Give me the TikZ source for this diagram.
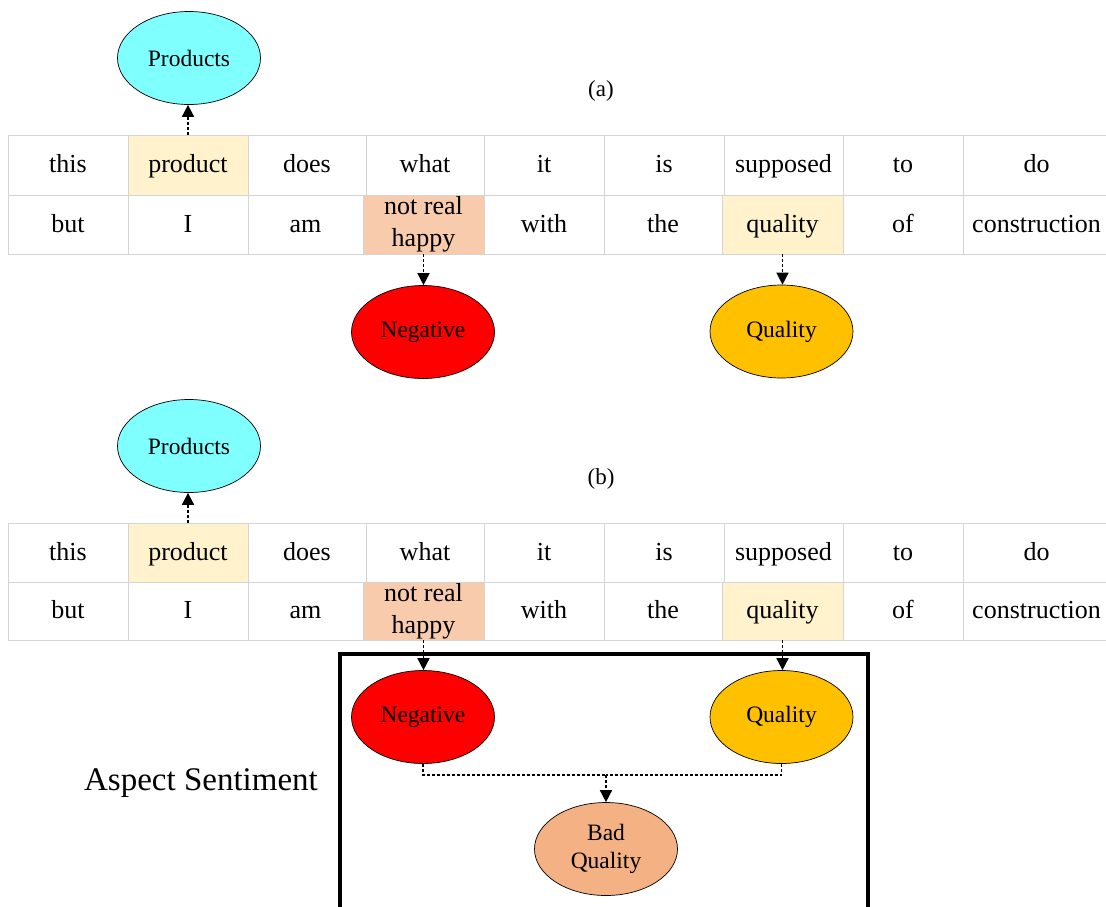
\documentclass[tikz,border=0pt]{standalone}
\usepackage{fontspec}
\setmainfont{Liberation Serif}
\usetikzlibrary{shapes.geometric,arrows.meta}

\definecolor{gridgray}{HTML}{D4D4D4}
\definecolor{aspectfill}{HTML}{FFF2CC}
\definecolor{opinionfill}{HTML}{F8CBAD}
\definecolor{productcyan}{HTML}{80FFFF}
\definecolor{negred}{HTML}{FF0000}
\definecolor{qualgold}{HTML}{FFC000}
\definecolor{badpeach}{HTML}{F4B183}

\tikzset{
  cell/.style={draw=gridgray, line width=0.9pt, inner sep=0pt,
    font=\fontsize{26}{32}\selectfont},
  oneline/.style={text height=18.5pt, text depth=3.5pt},
  twoline/.style={align=center},
  tag/.style={ellipse, draw=black, line width=0.7pt, inner sep=0pt,
    minimum width=143pt, minimum height=93pt,
    font=\fontsize{23.5}{28}\selectfont, align=center},
  link/.style={line width=1.6pt, dash pattern=on 3pt off 2pt},
  flow/.style={link, -{Triangle[width=12pt,length=12pt]}},
  panel/.style={font=\fontsize{23}{27}\selectfont, anchor=base},
}

\begin{document}
\begin{tikzpicture}[x=1pt,y=1pt]
\useasboundingbox (0,0) rectangle (1106,-906);

% ---------- sentence grid, panel (a) ----------
\foreach \l/\r/\t/\f [count=\i] in {
    8/128/this/white, 128/248/product/aspectfill, 248/366/does/white,
    366/484/what/white, 484/604/it/white, 604/724/is/white,
    724/843/supposed/white, 843/963/to/white, 963/1110/do/white}
  \node[cell, oneline, fill=\f, minimum width={\r-\l}, minimum height=60]
    (a1-\i) at ({(\l+\r)/2},-165) {\t};
\foreach \l/\r/\t/\f/\s [count=\i] in {
    8/128/but/white/oneline, 128/248/I/white/oneline, 248/363/am/white/oneline,
    363/484/{not real\\happy}/opinionfill/twoline, 484/604/with/white/oneline,
    604/722/the/white/oneline, 722/843/quality/aspectfill/oneline,
    843/963/of/white/oneline, 963/1110/construction/white/oneline}
  \node[cell, \s, fill=\f, minimum width={\r-\l}, minimum height=59]
    (a2-\i) at ({(\l+\r)/2},-224.5) {\t};

\node[panel] (labA) at (601,-96) {(a)};
\node[tag, fill=productcyan] (prodA) at (189,-58) {Products};
\node[tag, fill=negred] (negA) at (423,-332) {Negative};
\node[tag, fill=qualgold] (qualA) at (781.5,-331.5) {Quality};

\draw[flow] (a1-2.north) -- (a1-2.north |- prodA.south);
\draw[flow] (a2-4.south) -- (a2-4.south |- negA.north);
\draw[flow] (a2-7.south) -- (a2-7.south |- qualA.north);

% ---------- sentence grid, panel (b) ----------
\foreach \l/\r/\t/\f [count=\i] in {
    8/128/this/white, 128/248/product/aspectfill, 248/366/does/white,
    366/484/what/white, 484/604/it/white, 604/724/is/white,
    724/843/supposed/white, 843/963/to/white, 963/1110/do/white}
  \node[cell, oneline, fill=\f, minimum width={\r-\l}, minimum height=59]
    (b1-\i) at ({(\l+\r)/2},-552.5) {\t};
\foreach \l/\r/\t/\f/\s [count=\i] in {
    8/128/but/white/oneline, 128/248/I/white/oneline, 248/363/am/white/oneline,
    363/484/{not real\\happy}/opinionfill/twoline, 484/604/with/white/oneline,
    604/722/the/white/oneline, 722/843/quality/aspectfill/oneline,
    843/963/of/white/oneline, 963/1110/construction/white/oneline}
  \node[cell, \s, fill=\f, minimum width={\r-\l}, minimum height=58]
    (b2-\i) at ({(\l+\r)/2},-611) {\t};

\node[panel] (labB) at (601,-484) {(b)};
\node[tag, fill=productcyan] (prodB) at (189,-446) {Products};

% aspect-sentiment frame, open at the bottom edge
\draw[line width=4pt] (340,-912) -- (340,-654) -- (868,-654) -- (868,-912);
\node[font=\fontsize{33}{40}\selectfont, anchor=base] (aspect) at (201,-790) {Aspect Sentiment};

\node[tag, fill=negred] (negB) at (423,-717) {Negative};
\node[tag, fill=qualgold] (qualB) at (781.5,-717) {Quality};
\node[tag, fill=badpeach] (badB) at (606,-849) {Bad\\Quality};

\draw[flow] (b1-2.north) -- (b1-2.north |- prodB.south);
\draw[flow] (b2-4.south) -- (b2-4.south |- negB.north);
\draw[flow] (b2-7.south) -- (b2-7.south |- qualB.north);

\coordinate (join) at (606,-775);
\draw[link] (negB.south) |- (join);
\draw[link] (qualB.south) |- (join);
\draw[flow] (join) -- (badB.north);
\end{tikzpicture}
\end{document}
